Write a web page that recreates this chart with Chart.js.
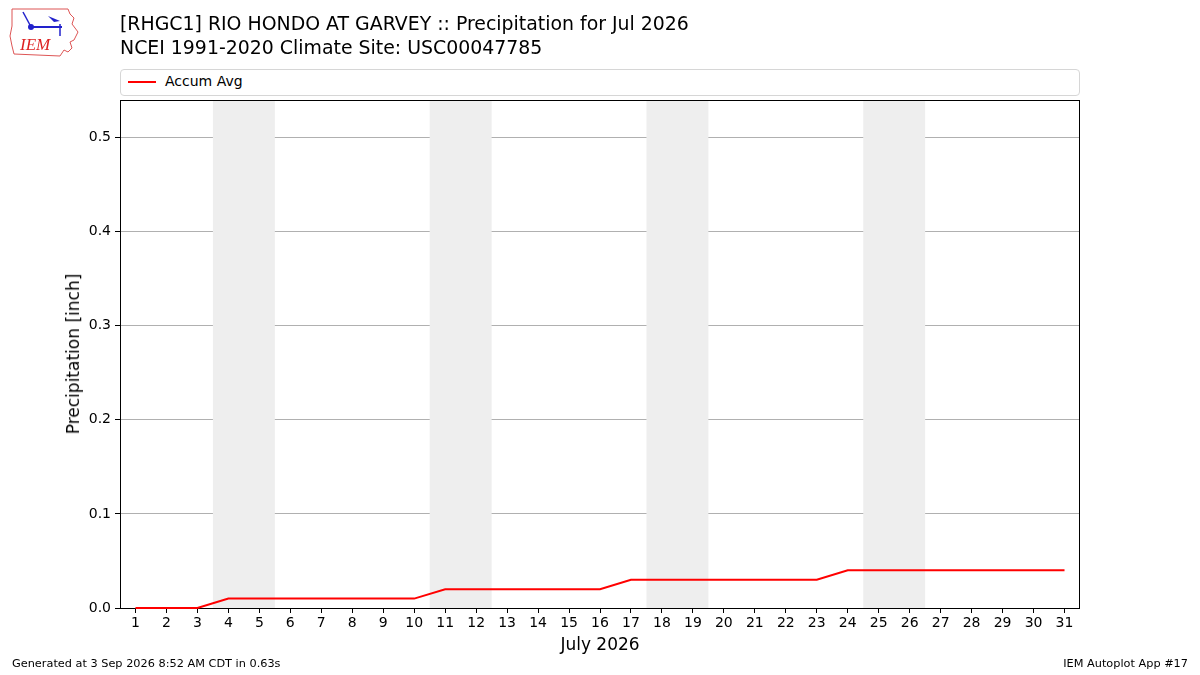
<!DOCTYPE html>
<html><head><meta charset="utf-8">
<script src="https://cdn.jsdelivr.net/npm/chart.js@4/dist/chart.umd.min.js"></script>
<style>
html,body{margin:0;padding:0;background:#fff;}
#wrap{position:relative;width:1200px;height:675px;font-family:"DejaVu Sans",sans-serif;}
canvas{position:absolute;left:0;top:0;}
.t{position:absolute;white-space:nowrap;color:#000;}
#legend{position:absolute;left:120px;top:69px;width:958px;height:25px;border:1px solid #d6d6d6;border-radius:4px;background:#fff;}
</style></head><body>
<div id="wrap">
<canvas id="c" width="1200" height="675"></canvas>
<div class="t" style="left:120px;top:12px;font-size:18.9px;">[RHGC1] RIO HONDO AT GARVEY :: Precipitation for Jul 2026</div>
<div class="t" style="left:120px;top:36px;font-size:18.9px;">NCEI 1991-2020 Climate Site: USC00047785</div>
<div id="legend"><div style="position:absolute;left:7px;top:11px;width:28px;height:2px;background:#ff0000;"></div><div class="t" style="left:44px;top:3px;font-size:14px;">Accum Avg</div></div>
<div class="t" style="left:12px;top:657px;font-size:11.3px;">Generated at 3 Sep 2026 8:52 AM CDT in 0.63s</div>
<div class="t" style="right:12px;top:657px;font-size:11.3px;">IEM Autoplot App #17</div>
<div class="t" style="left:600px;top:634px;font-size:17px;transform:translateX(-50%);">July 2026</div>
<div class="t" style="left:73px;top:354px;font-size:17px;transform:translate(-50%,-50%) rotate(-90deg);">Precipitation [inch]</div>
<svg style="position:absolute;left:8px;top:6px" width="72" height="52" viewBox="0 0 72 52">
<path d="M4 3 L60 3 L62 8 L66 12 L64 18 L70 26 L66 34 L62 36 L64 42 L60 46 L56 44 L52 50 L6 48 L4 40 L2 30 L4 20 Z" fill="none" stroke="#d55" stroke-width="1"/>
<line x1="22" y1="21" x2="54" y2="21" stroke="#22c" stroke-width="2"/>
<circle cx="23" cy="21" r="3" fill="#22c"/>
<path d="M40 10 L52 15 L46 16 Z" fill="#22c"/>
<line x1="52" y1="18" x2="52" y2="30" stroke="#22c" stroke-width="1.5"/>
<line x1="15" y1="6" x2="22" y2="19" stroke="#22c" stroke-width="1.5"/>
<text x="12" y="44" font-family="Liberation Serif,serif" font-style="italic" font-size="17" fill="#d22">IEM</text>
</svg>
</div>
<script>
const days = [1,2,3,4,5,6,7,8,9,10,11,12,13,14,15,16,17,18,19,20,21,22,23,24,25,26,27,28,29,30,31];
const accumAvg = [0.00,0.00,0.00,0.01,0.01,0.01,0.01,0.01,0.01,0.01,0.02,0.02,0.02,0.02,0.02,0.02,0.03,0.03,0.03,0.03,0.03,0.03,0.03,0.04,0.04,0.04,0.04,0.04,0.04,0.04,0.04];
const weekendStarts = [4,11,18,25];
const yTicks = [0.0,0.1,0.2,0.3,0.4,0.5];

const bands = {
  id:'bands',
  beforeDatasetsDraw(chart){
    const {ctx, chartArea:a, scales:{x}} = chart;
    ctx.save();
    ctx.fillStyle = '#eeeeee';
    weekendStarts.forEach(d=>{
      const x0 = x.getPixelForValue(d-0.5), x1 = x.getPixelForValue(d+1.5);
      ctx.fillRect(x0, a.top, x1-x0, a.bottom-a.top);
    });
    ctx.strokeStyle='#000'; ctx.lineWidth=1;
    ctx.strokeRect(Math.round(a.left)+0.5, Math.round(a.top)+0.5, Math.round(a.right-a.left)-1, Math.round(a.bottom-a.top));
    ctx.restore();
  }
};

new Chart(document.getElementById('c'), {
  type:'line',
  data:{datasets:[{label:'Accum Avg', data: days.map((d,i)=>({x:d,y:accumAvg[i]})), borderColor:'#ff0000', borderWidth:2, pointRadius:0, tension:0, fill:false, clip:false}]},
  options:{
    responsive:false, animation:false,
    layout:{padding:{left:0,top:100,right:120,bottom:0}},
    plugins:{legend:{display:false}, tooltip:{enabled:false}},
    scales:{
      x:{type:'linear', min:0.5, max:31.5,
        afterFit(s){ s.height = 67; },
        afterBuildTicks(s){ s.ticks = days.map(v=>({value:v})); },
        ticks:{color:'#000', font:{family:'DejaVu Sans', size:14}, padding:2, maxRotation:0, autoSkip:false, callback:v=>String(v)},
        grid:{drawOnChartArea:false, color:'#000', tickColor:'#000', tickLength:5},
        border:{display:false}
      },
      y:{type:'linear', min:0, max:0.54,
        afterFit(s){ s.width = 120; },
        afterBuildTicks(s){ s.ticks = yTicks.map(v=>({value:v})); },
        ticks:{color:'#000', font:{family:'DejaVu Sans', size:14}, padding:4, callback:v=>v.toFixed(1)},
        grid:{color:'#b0b0b0', tickColor:'#000', tickLength:5, lineWidth:1},
        border:{display:false}
      }
    }
  },
  plugins:[bands]
});
</script>
</body></html>
